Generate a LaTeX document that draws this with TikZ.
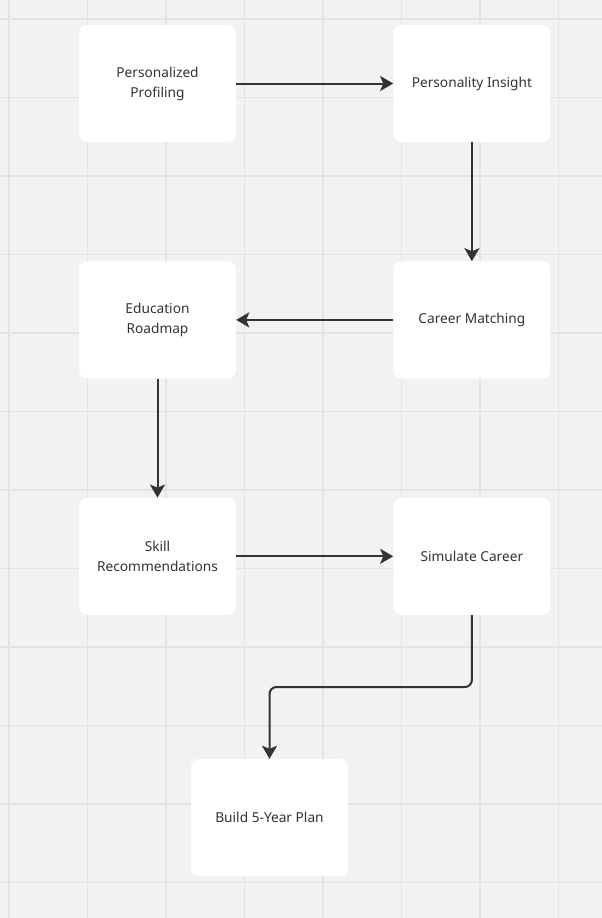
\documentclass[tikz,border=0pt]{standalone}
\usepackage{fontspec}
\setmainfont{Noto Sans}
\usepackage{tikz}
\usetikzlibrary{positioning,arrows.meta}
\usepackage{xcolor}
\definecolor{bgcol}{HTML}{F2F2F2}
\definecolor{gridcol}{HTML}{E3E3E3}
\definecolor{inkcol}{HTML}{333333}
\tikzstyle{card}=[fill=white,rounded corners=8pt,minimum width=157pt,minimum height=117pt,inner sep=2pt,align=center,text=inkcol,font=\fontsize{13.7pt}{20pt}\selectfont]
\tikzstyle{flow}=[line width=2pt,draw=inkcol,-{Stealth[length=13pt,width=15pt,inset=3pt]}]

\begin{document}
\begin{tikzpicture}[x=1pt,y=-1pt]

	\fill[bgcol] (0,0) rectangle (602,918);
	\useasboundingbox (0,0) rectangle (602,918);

	\foreach \gx in {0,...,7}
		\draw[gridcol, line width=1.2pt] (9+78.5*\gx,0) -- (9+78.5*\gx,918);
	\foreach \gy in {0,...,11}
		\draw[gridcol, line width=1.2pt] (0,19+78.5*\gy) -- (602,19+78.5*\gy);

	\node[card] (prof) at (157.5,83.5) {Personalized\\Profiling};
	\node[card, right=157pt of prof] (insight) {Personality Insight};
	\node[card, below=119pt of insight] (match) {Career Matching};
	\node[card, below=119pt of prof] (edu) {Education\\Roadmap};
	\node[card, below=119pt of edu] (skill) {Skill\\Recommendations};
	\node[card, right=157pt of skill] (sim) {Simulate Career};
	\node[card] (plan) at (269.5,817.5) {Build 5-Year Plan};

	\draw[flow] (prof) -- (insight);
	\draw[flow] (insight) -- (match);
	\draw[flow] (match) -- (edu);
	\draw[flow] (edu) -- (skill);
	\draw[flow] (skill) -- (sim);
	\draw[flow, rounded corners=7pt] (sim.south) -- ++(0,72) -| (plan.north);

\end{tikzpicture}
\end{document}
